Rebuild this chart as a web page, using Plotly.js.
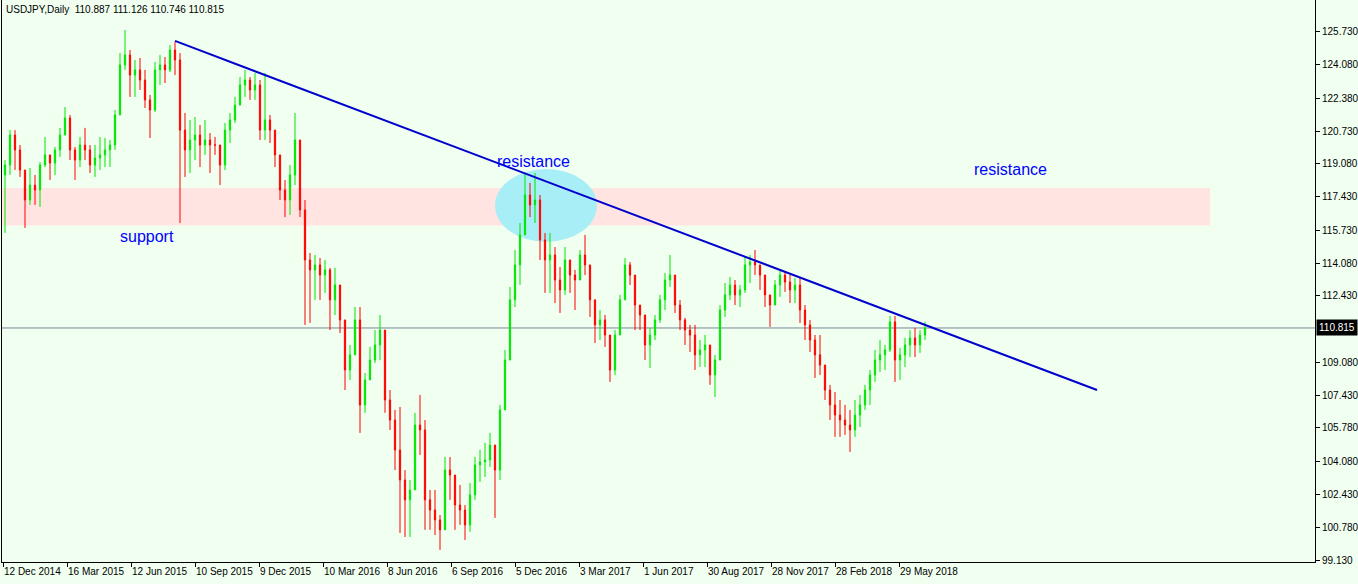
<!DOCTYPE html>
<html><head><meta charset="utf-8">
<script src="https://cdn.plot.ly/plotly-3.0.1.min.js"></script>
<style>html,body{margin:0;padding:0;background:#F0FFF0;}#chart{width:1358px;height:584px;}</style>
</head><body><div id="chart"></div>
<script>
const headerText = 'USDJPY,Daily  110.887 111.126 110.746 110.815';

// weekly candles (each = 5 daily bars)
const openP = [
118.52,119.02,120.53,119.78,118.77,117.26,118.01,117.76,119.02,119.53,
119.12,119.78,120.53,121.39,119.78,119.27,120.03,119.78,119.02,119.37,
119.53,119.78,120.03,121.54,124.06,124.56,123.55,123.81,123.30,122.30,
121.79,123.81,124.06,123.81,124.81,124.31,120.78,119.78,120.28,120.53,
120.03,120.28,120.03,120.03,119.02,120.78,121.29,122.04,123.05,123.30,
122.80,123.05,120.78,121.29,120.78,119.53,117.76,117.26,118.52,120.28,
116.76,114.24,113.74,113.99,113.48,113.74,112.23,112.98,111.22,108.70,
109.46,111.22,106.94,108.20,109.20,109.96,110.71,107.19,106.18,104.67,
103.16,102.16,102.66,105.93,105.68,102.16,101.65,101.15,100.65,103.66,
103.41,101.90,101.65,100.90,102.41,103.92,104.07,104.17,104.92,103.66,
106.69,109.20,112.23,113.99,115.50,117.51,117.01,117.26,115.25,114.24,
114.49,113.23,112.73,114.24,113.48,113.23,114.49,113.99,112.23,110.97,
111.22,110.46,108.70,110.46,112.23,113.99,113.48,111.97,111.47,109.96,
110.46,111.22,112.23,113.23,113.48,111.97,111.22,110.71,110.46,109.46,
109.71,109.96,108.45,109.20,111.72,112.48,112.98,112.48,112.73,113.99,
114.14,113.99,113.48,112.48,111.97,112.98,113.48,113.13,112.73,112.98,
111.72,110.97,110.21,109.46,108.95,107.69,106.94,106.43,106.18,105.93,
105.68,106.43,106.94,107.69,108.45,109.20,109.46,109.71,111.12,109.20,
109.46,109.96,110.31,109.96,110.46];
const highP = [
119.27,120.78,120.78,120.03,118.77,118.87,118.52,119.17,120.43,119.53,
119.93,120.89,121.94,121.54,119.93,120.43,120.89,120.03,120.03,120.43,
120.38,120.28,121.79,124.66,125.82,124.81,124.31,124.41,123.81,122.55,
124.21,124.56,124.46,125.06,125.22,124.66,121.64,121.29,121.44,121.04,
121.29,120.63,120.43,120.03,121.14,121.64,122.45,123.45,123.81,123.45,
123.65,123.30,123.65,121.54,120.78,119.53,118.27,119.02,121.64,120.28,
117.26,114.59,114.49,114.34,114.24,113.84,113.84,112.98,111.22,109.96,
111.87,111.87,108.55,109.86,110.71,111.47,110.71,107.69,106.69,106.84,
103.66,103.16,106.54,107.44,106.18,102.66,102.66,101.40,104.32,104.32,
103.41,102.91,101.90,103.01,104.32,104.67,105.03,105.53,104.92,106.94,
109.71,112.88,114.74,116.10,118.62,118.12,118.62,117.51,115.60,115.60,
114.89,113.89,114.89,114.24,113.74,114.74,115.50,113.99,112.23,111.72,
111.47,110.46,110.71,112.48,114.34,114.14,113.48,111.97,111.47,110.81,
111.47,112.48,113.58,114.49,113.48,112.23,111.32,110.97,110.97,110.21,
110.46,109.96,109.46,111.97,113.08,113.38,113.23,112.98,114.39,114.49,
114.74,113.99,113.48,112.48,113.23,113.74,113.63,113.48,113.33,113.33,
111.97,111.22,110.46,110.46,108.95,107.95,107.59,107.19,106.94,106.69,
107.19,107.44,107.95,108.70,109.71,110.21,109.96,111.42,111.42,109.81,
110.31,110.71,110.82,110.71,111.126];
const lowP = [
115.60,118.52,118.77,118.42,115.85,117.01,117.01,116.91,118.92,118.27,
118.52,119.43,120.53,119.27,118.27,118.92,119.27,118.62,118.42,118.77,
118.92,118.92,119.78,121.54,123.81,122.45,122.45,122.80,121.89,120.38,
121.69,123.05,123.15,123.70,123.55,116.10,118.42,118.62,119.27,118.92,
119.53,118.62,119.53,118.01,118.77,120.13,121.14,122.04,122.45,122.30,
122.30,120.28,120.28,120.13,118.92,117.26,116.40,116.51,118.01,116.40,
110.97,111.07,112.23,112.23,112.58,110.71,111.47,110.56,107.69,108.20,
109.46,105.53,106.54,108.20,109.05,109.20,106.54,105.68,103.66,100.49,
100.29,100.29,102.66,104.42,100.65,100.65,100.39,99.64,100.65,102.16,
100.65,100.90,100.14,100.55,102.16,103.06,103.31,103.82,101.25,103.16,
106.69,109.20,111.87,112.98,115.50,116.40,116.10,114.24,112.58,112.58,
112.07,111.57,112.48,112.58,111.72,113.23,113.48,111.37,110.06,110.21,
109.86,108.10,108.45,110.46,112.23,112.98,110.71,110.71,109.20,108.80,
110.21,111.07,111.72,112.88,111.57,110.71,109.96,109.61,108.70,108.85,
108.85,107.95,107.34,109.20,111.37,112.23,111.97,111.87,112.58,113.08,
113.48,112.73,111.87,110.87,111.97,112.38,112.63,112.07,112.07,111.07,
110.21,109.61,108.30,108.45,107.19,106.18,105.33,105.33,105.43,104.57,
105.33,105.83,106.69,106.94,108.10,108.60,108.70,109.61,108.10,108.20,
108.85,109.35,109.35,109.56,110.21];
const closeP = [
119.02,120.53,119.78,118.77,117.26,118.01,117.76,119.02,119.53,119.12,
119.78,120.53,121.39,119.78,119.27,120.03,119.78,119.02,119.37,119.53,
119.78,120.03,121.54,124.06,124.56,123.55,123.81,123.30,122.30,121.79,
123.81,124.06,123.81,124.81,124.31,120.78,119.78,120.28,120.53,120.03,
120.28,120.03,120.03,119.02,120.78,121.29,122.04,123.05,123.30,122.80,
123.05,120.78,121.29,120.78,119.53,117.76,117.26,118.52,120.28,116.76,
114.24,113.74,113.99,113.48,113.74,112.23,112.98,111.22,108.70,109.46,
111.22,106.94,108.20,109.20,109.96,110.71,107.19,106.18,104.67,103.16,
102.16,102.66,105.93,105.68,102.16,101.65,101.15,100.65,103.66,103.41,
101.90,101.65,100.90,102.41,103.92,104.07,104.17,104.92,103.66,106.69,
109.20,112.23,113.99,115.50,117.51,117.01,117.26,115.25,114.24,114.49,
113.23,112.73,114.24,113.48,113.23,114.49,113.99,112.23,110.97,111.22,
110.46,108.70,110.46,112.23,113.99,113.48,111.97,111.47,109.96,110.46,
111.22,112.23,113.23,113.48,111.97,111.22,110.71,110.46,109.46,109.71,
109.96,108.45,109.20,111.72,112.48,112.98,112.48,112.73,113.99,114.14,
113.99,113.48,112.48,111.97,112.98,113.48,113.13,112.73,112.98,111.72,
110.97,110.21,109.46,108.95,107.69,106.94,106.43,106.18,105.93,105.68,
106.43,106.94,107.69,108.45,109.20,109.46,109.71,111.12,109.20,109.46,
109.96,110.31,109.96,110.46,110.815];

// time axis (bar numbers, 1 bar = 1 trading day)
const tickBars = [0,64,128,192,256,320,384,448,512,576,640,704,768,832,896];
const tickLabels = ['12 Dec 2014','16 Mar 2015','12 Jun 2015','10 Sep 2015','9 Dec 2015',
  '10 Mar 2016','8 Jun 2016','6 Sep 2016','5 Dec 2016','3 Mar 2017','1 Jun 2017',
  '30 Aug 2017','28 Nov 2017','28 Feb 2018','29 May 2018'];
const priceTicks = [99.13,100.78,102.43,104.08,105.78,107.43,109.08,112.43,114.08,
  115.73,117.43,119.08,120.73,122.38,124.08,125.73];
const lastPrice = 110.815;

// drawn objects
const trendBars = [172, 1094];
const trendPrices = [125.27, 107.69];
const zoneBars = [-1, 1207];
const zonePrices = [115.97, 117.86];
const ellipseBars = [492, 594];
const ellipsePrices = [115.15, 118.82];
const labelTexts = ['support', 'resistance', 'resistance'];
const labelBars = [144, 530, 1007];
const labelPrices = [115.40, 119.22, 118.77];

const barsPerCandle = 5;
const xs = closeP.map((_, i) => 2 + i * barsPerCandle);

const trace = {
  type: 'candlestick', x: xs, open: openP, high: highP, low: lowP, close: closeP,
  increasing: {line: {color: '#00E600', width: 1}, fillcolor: '#00E600'},
  decreasing: {line: {color: '#FF0000', width: 1}, fillcolor: '#FF0000'},
  whiskerwidth: 0, hoverinfo: 'none', showlegend: false
};

const tickFont = {family: '"Liberation Sans Narrow", "Liberation Sans", Arial, sans-serif', size: 10, color: '#000'};

const shapes = [
  {type: 'rect', xref: 'x', yref: 'y', x0: zoneBars[0], x1: zoneBars[1], y0: zonePrices[0], y1: zonePrices[1],
   fillcolor: '#FFE4E1', line: {width: 0}, layer: 'below'},
  {type: 'circle', xref: 'x', yref: 'y', x0: ellipseBars[0], x1: ellipseBars[1], y0: ellipsePrices[0], y1: ellipsePrices[1],
   fillcolor: '#A8EEF6', line: {width: 0}, layer: 'below'},
  {type: 'line', xref: 'paper', yref: 'y', x0: 0, x1: 1, y0: lastPrice, y1: lastPrice,
   line: {color: '#778899', width: 1}, layer: 'below'},
  {type: 'line', xref: 'x', yref: 'y', x0: trendBars[0], x1: trendBars[1], y0: trendPrices[0], y1: trendPrices[1],
   line: {color: '#0000CC', width: 2}}
];

const annotations = labelTexts.map((t, i) => ({
  xref: 'x', yref: 'y', x: labelBars[i], y: labelPrices[i], text: t, showarrow: false,
  xanchor: 'center', yanchor: 'middle',
  font: {family: '"Liberation Sans", Arial, sans-serif', size: 16, color: '#0000FF'}
}));
annotations.push({
  xref: 'paper', yref: 'paper', x: 0, y: 1, xanchor: 'left', yanchor: 'top', xshift: 2, yshift: -2,
  text: headerText.replace(/ /g, '&nbsp;'), showarrow: false,
  font: {family: '"Liberation Sans", Arial, sans-serif', size: 10, color: '#000'}
});
annotations.push({
  xref: 'paper', yref: 'y', x: 1, y: lastPrice, xanchor: 'left', yanchor: 'middle', xshift: 1,
  text: lastPrice.toFixed(3), showarrow: false, bgcolor: '#000000', borderpad: 2,
  font: {family: '"Liberation Sans Narrow", "Liberation Sans", Arial, sans-serif', size: 10, color: '#FFFFFF'}
});

const layout = {
  width: 1358, height: 584,
  margin: {l: 2, r: 43, t: 0, b: 22, pad: 0},
  paper_bgcolor: '#F0FFF0', plot_bgcolor: '#F0FFF0',
  showlegend: false,
  boxgap: 0.65,
  xaxis: {
    range: [-1, 1312], rangeslider: {visible: false}, showgrid: false, zeroline: false,
    showline: true, linecolor: '#000', linewidth: 1, ticks: 'outside', ticklen: 4, tickcolor: '#000',
    tickvals: tickBars, ticktext: tickLabels, tickangle: 0, ticklabelposition: 'outside right', tickfont: tickFont,
    fixedrange: true
  },
  yaxis: {
    side: 'right', range: [99.03, 127.33], showgrid: false, zeroline: false,
    showline: true, mirror: true, linecolor: '#000', linewidth: 1, ticks: 'outside', ticklen: 4, tickcolor: '#000',
    tickvals: priceTicks, tickformat: '.3f', tickfont: tickFont, fixedrange: true
  },
  shapes: shapes,
  annotations: annotations
};

Plotly.newPlot('chart', [trace], layout, {displayModeBar: false, staticPlot: true});
</script>
</body></html>
